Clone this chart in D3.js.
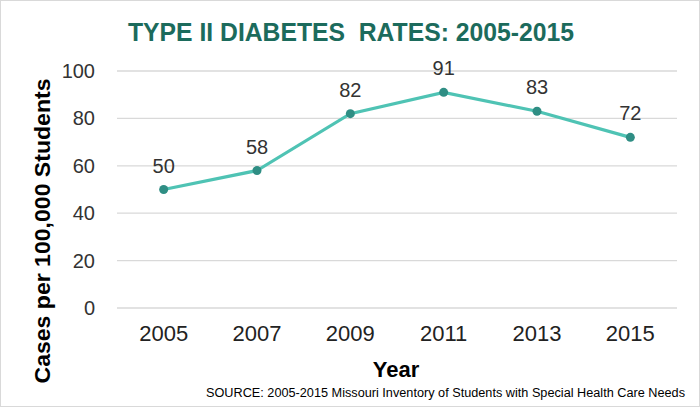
<!DOCTYPE html>
<html><head><meta charset="utf-8">
<script src="https://cdn.jsdelivr.net/npm/d3@7"></script>
<style>body{margin:0;background:#fff;}svg{display:block;font-family:"Liberation Sans",Arial,sans-serif;}</style>
</head><body><svg id="c" width="700" height="407"></svg>
<script>
const years = ["2005","2007","2009","2011","2013","2015"];
const rates = [50, 58, 82, 91, 83, 72];
const yTicks = [0, 20, 40, 60, 80, 100];
const titleText = "TYPE II DIABETES  RATES: 2005-2015";
const yTitle = "Cases per 100,000 Students";
const xTitle = "Year";
const sourceText = "SOURCE: 2005-2015 Missouri Inventory of Students with Special Health Care Needs";

const svg = d3.select("#c");
svg.append("rect").attr("x",0.5).attr("y",0.5).attr("width",699).attr("height",406)
  .attr("fill","#fff").attr("stroke","#d9d9d9");

const x = d3.scaleBand().domain(years).range([117,677]);
const y = d3.scaleLinear().domain([0,100]).range([308,71]);

// gridlines
svg.append("g").selectAll("line").data(yTicks).join("line")
  .attr("x1",117).attr("x2",677).attr("y1",d=>y(d)).attr("y2",d=>y(d))
  .attr("stroke","#d9d9d9").attr("stroke-width",1.3);

// y axis
const ya = svg.append("g").attr("transform","translate(117,0)")
  .call(d3.axisLeft(y).tickValues(yTicks).tickSize(0).tickPadding(22));
ya.select(".domain").remove();
ya.selectAll("text").attr("font-size",20).attr("fill","#333").attr("font-family","Liberation Sans, Arial, sans-serif");

// x axis
const xa = svg.append("g").attr("transform","translate(0,308)")
  .call(d3.axisBottom(x).tickSize(0).tickPadding(17));
xa.select(".domain").remove();
xa.selectAll("text").attr("font-size",22).attr("fill","#222").attr("font-family","Liberation Sans, Arial, sans-serif");

// line
const cx = (d,i)=>x(years[i])+x.bandwidth()/2;
svg.append("path").datum(rates)
  .attr("d", d3.line().x((d,i)=>cx(d,i)).y(d=>y(d)))
  .attr("fill","none").attr("stroke","#4fc3b4").attr("stroke-width",3.2);
svg.append("g").selectAll("circle").data(rates).join("circle")
  .attr("cx",(d,i)=>cx(d,i)).attr("cy",d=>y(d)).attr("r",4.5).attr("fill","#2f8e84");
svg.append("g").selectAll("text").data(rates).join("text")
  .attr("x",(d,i)=>cx(d,i)).attr("y",d=>y(d)-17)
  .attr("text-anchor","middle").attr("font-size",20).attr("fill","#333").text(d=>d);

// title
svg.append("text").attr("x",351).attr("y",41).attr("text-anchor","middle")
  .style("white-space","pre")
  .attr("font-size",26).attr("font-weight","bold").attr("fill","#1c6b5c")
  .attr("textLength",446).attr("lengthAdjust","spacingAndGlyphs").text(titleText);

// y title
svg.append("text").attr("transform","translate(50,231) rotate(-90)")
  .attr("text-anchor","middle").attr("font-size",22).attr("font-weight","bold").attr("fill","#000")
  .attr("textLength",305).attr("lengthAdjust","spacingAndGlyphs")
  .text(yTitle);

// x title
svg.append("text").attr("x",396).attr("y",377).attr("text-anchor","middle")
  .attr("font-size",22).attr("font-weight","bold").attr("fill","#000").text(xTitle);

// source
svg.append("text").attr("x",685).attr("y",397).attr("text-anchor","end")
  .attr("font-size",12).attr("fill","#000")
  .attr("textLength",479).attr("lengthAdjust","spacingAndGlyphs").text(sourceText);
</script></body></html>
